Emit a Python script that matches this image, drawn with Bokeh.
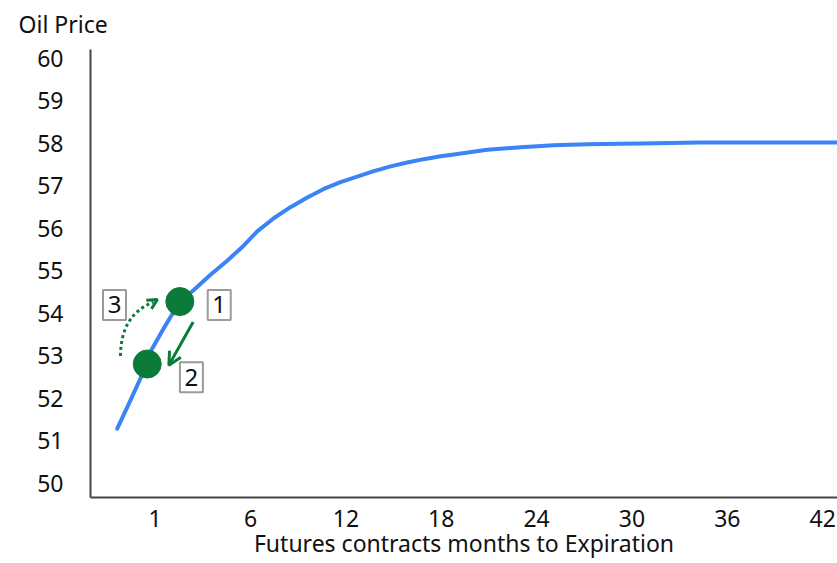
from bokeh.plotting import figure
from bokeh.models import Range1d, FixedTicker, Arrow, OpenHead
from bokeh.core.properties import value
from bokeh.embed import file_html
from bokeh.resources import INLINE

# Futures curve (contango): term position vs. oil price
term = [-2.39, -1.55, -0.93, -0.30, 0.54, 1.55, 2.43, 3.48, 4.53, 5.58, 6.42, 7.46,
        8.51, 9.57, 10.61, 11.66, 12.71, 13.76, 14.81, 15.86, 16.90, 17.95, 18.79,
        20.89, 22.99, 25.08, 27.19, 29.28, 30.54, 34.32, 38.72, 42.92]
price = [51.29, 51.96, 52.47, 53.10, 53.65, 54.28, 54.55, 54.91, 55.24, 55.60, 55.93, 56.24,
         56.50, 56.73, 56.93, 57.09, 57.22, 57.35, 57.46, 57.55, 57.63, 57.70, 57.74,
         57.85, 57.91, 57.96, 57.98, 57.99, 58.00, 58.02, 58.02, 58.02]

# Roll points: contract held (1) and where it rolls down to (2)
dot_term = [1.55, -0.50]
dot_price = [54.28, 52.81]

# Numbered callout boxes
box_text = ["1", "2", "3"]
box_term = [4.03, 2.28, -2.56]
box_price = [54.20, 52.50, 54.20]

# Axis ticks
x_tick_pos = [0, 6, 12, 18, 24, 30, 36, 42]
x_tick_labels = ["1", "6", "12", "18", "24", "30", "36", "42"]
y_ticks = list(range(50, 61))

FONT = "Noto Sans"
SIZE = "23px"
BLUE = "#3b84f5"
GREEN = "#0a7b39"
AXIS = "#444444"
INK = "#111111"

p = figure(width=837, height=563, output_backend="svg", toolbar_location=None,
           x_range=Range1d(-4.07, 42.93), y_range=Range1d(49.67, 60.21),
           min_border_left=90, min_border_right=0, min_border_top=49, min_border_bottom=66)
p.outline_line_color = None
p.xgrid.grid_line_color = None
p.ygrid.grid_line_color = None
p.background_fill_color = "white"
p.border_fill_color = "white"

# Axis title at top-left
p.title.text = "Oil Price"
p.title.align = "left"
p.title.vertical_align = "top"
p.title.offset = -72
p.title.standoff = 15
p.title.text_font = FONT
p.title.text_font_size = SIZE
p.title.text_font_style = "normal"
p.title.text_color = INK

for ax in (p.xaxis[0], p.yaxis[0]):
    ax.axis_line_color = AXIS
    ax.axis_line_width = 2
    ax.major_tick_line_color = None
    ax.minor_tick_line_color = None
    ax.major_label_text_font = FONT
    ax.major_label_text_font_size = SIZE
    ax.major_label_text_color = INK

p.xaxis.ticker = FixedTicker(ticks=x_tick_pos)
p.xaxis.major_label_overrides = {pos: lab for pos, lab in zip(x_tick_pos, x_tick_labels)}
p.xaxis.major_label_standoff = 6
p.xaxis.axis_label = "Futures contracts months to Expiration"
p.xaxis.axis_label_text_font = FONT
p.xaxis.axis_label_text_font_size = SIZE
p.xaxis.axis_label_text_font_style = "normal"
p.xaxis.axis_label_text_color = INK
p.xaxis.axis_label_standoff = -3

p.yaxis.ticker = FixedTicker(ticks=y_ticks)
p.yaxis.major_label_standoff = 21

# Curve
p.line(term, price, line_color=BLUE, line_width=4, line_cap="round", line_join="round")

# Roll-down arrow from point 1 to point 2
p.add_layout(Arrow(x_start=2.39, y_start=53.80, x_end=0.86, y_end=52.78,
                   line_color=GREEN, line_width=3,
                   end=OpenHead(size=13, line_color=GREEN, line_width=3)))

# Dotted roll-back arc (3)
p.quadratic(x0=[-2.18], y0=[53.00], x1=[-0.11], y1=[54.27], cx=[-2.18], cy=[53.96],
            line_color=GREEN, line_width=3, line_dash="3 3")
p.add_layout(Arrow(x_start=-0.30, y_start=54.23, x_end=0.14, y_end=54.33,
                   line_alpha=0, line_width=0,
                   end=OpenHead(size=10, line_color=GREEN, line_width=3)))

# Points
p.scatter(dot_term, dot_price, size=28, fill_color=GREEN, line_color=GREEN)

# Callout boxes
p.rect(box_term, box_price, width=23, height=30, width_units="screen", height_units="screen",
       fill_color="white", line_color="#9b9b9b", line_width=2)
p.text(box_term, box_price, text=box_text, text_font=value(FONT), text_font_size="24px",
       text_align="center", text_baseline="middle", text_color=INK)

open("out.html", "w").write(file_html(p, INLINE))
